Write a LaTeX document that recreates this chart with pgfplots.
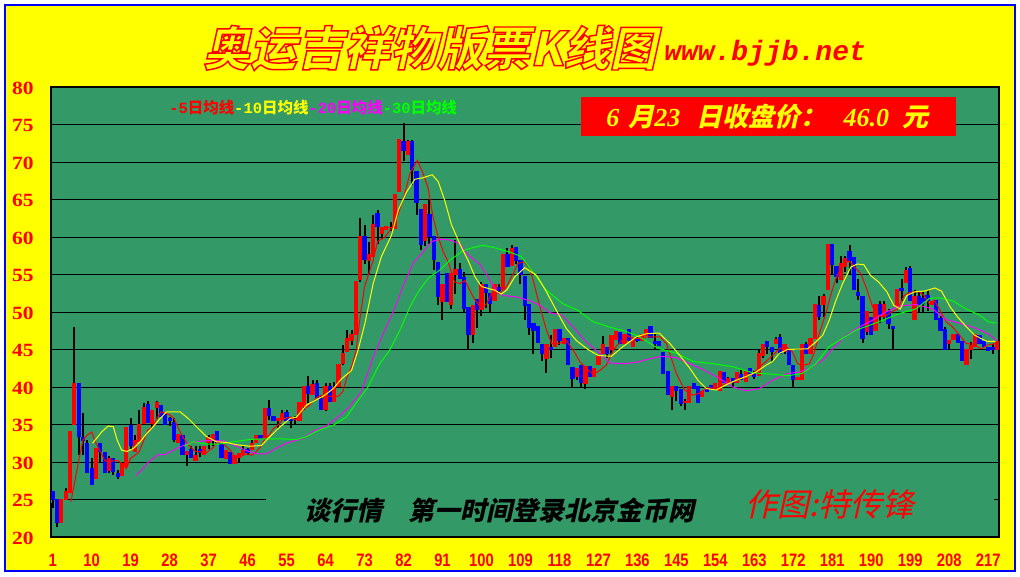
\documentclass[border=0pt]{standalone}
\usepackage{fontspec}
\usepackage{pgfplots}
\usepackage{pgfplotstable}
\pgfplotsset{compat=1.18}
\setmainfont{Liberation Sans}
\newfontfamily\cjk{Noto Sans CJK SC}
\newfontfamily\cjkit[FakeSlant=0.22]{Noto Sans CJK SC}
\newfontfamily\romn{Liberation Serif}
\newfontfamily\romnwide[FakeStretch=1.15]{Liberation Serif}
\newfontfamily\numsans[FakeStretch=0.82]{Liberation Sans}
\newfontfamily\monof{Liberation Mono}
\definecolor{plotgreen}{HTML}{339966}
\definecolor{maGreen}{HTML}{00FF00}
\definecolor{pureYellow}{HTML}{FFFF00}
\definecolor{pureRed}{HTML}{FF0000}
\definecolor{pureBlue}{HTML}{0000FF}
\definecolor{pureMagenta}{HTML}{FF00FF}

% n open high low close
\pgfplotstableread{
n open high low close
1 26.1 26.1 23.9 25.0
2 25.1 25.1 21.4 21.9
3 21.9 25.1 21.9 25.1
4 25.0 26.5 25.0 26.1
5 25.9 34.1 25.9 34.1
6 34.9 48.0 34.9 40.6
7 40.6 40.6 31.0 33.4
8 33.4 36.5 30.9 32.8
9 32.6 33.0 28.6 28.6
10 29.2 30.5 27.0 27.0
11 27.8 31.9 27.8 31.9
12 32.6 32.6 29.9 31.4
13 31.4 31.4 28.5 28.5
14 28.8 30.8 28.5 30.5
15 30.6 30.6 28.3 28.7
16 28.5 29.0 27.8 28.0
17 28.2 29.9 28.2 29.9
18 29.3 34.7 29.3 34.7
19 34.9 35.9 31.8 32.1
20 31.4 33.6 31.4 32.9
21 32.7 37.0 32.7 35.1
22 35.1 37.9 35.1 37.3
23 37.8 38.1 35.2 35.2
24 35.1 37.0 34.5 37.0
25 37.2 38.2 35.8 38.0
26 37.6 37.6 36.0 36.0
27 36.5 36.5 35.0 35.0
28 35.9 36.0 34.8 35.5
29 35.4 35.9 32.7 33.0
30 32.5 33.7 32.5 33.7
31 33.6 33.6 30.9 30.9
32 30.9 31.5 29.5 31.5
33 31.7 32.1 30.5 30.5
34 30.2 32.1 30.2 30.9
35 31.7 32.2 30.7 31.2
36 31.0 32.1 31.0 32.1
37 32.6 33.6 31.7 33.3
38 32.8 33.7 32.2 33.7
39 34.1 34.1 32.6 32.6
40 32.7 32.7 30.6 30.6
41 30.4 31.6 30.4 31.6
42 31.4 31.4 29.7 29.8
43 29.8 30.9 29.8 30.9
44 30.6 31.2 30.0 31.2
45 30.9 32.1 30.9 31.6
46 31.7 31.9 31.0 31.2
47 31.6 33.1 31.6 32.6
48 32.6 33.6 32.6 33.6
49 33.6 33.6 33.1 33.1
50 33.1 37.2 33.1 37.2
51 37.2 38.3 35.6 36.1
52 36.1 36.1 35.5 35.5
53 35.5 35.9 34.5 35.9
54 35.6 37.0 35.6 36.5
55 36.7 37.0 35.5 35.5
56 36.0 36.0 34.6 35.5
57 35.6 36.2 35.0 35.8
58 35.5 38.0 35.5 38.0
59 37.3 40.1 36.9 40.1
60 40.1 41.5 37.9 39.1
61 38.9 41.0 38.9 40.4
62 40.6 41.0 38.5 38.5
63 38.5 39.0 36.9 36.9
64 37.0 40.6 36.8 40.1
65 40.1 40.5 38.0 38.0
66 38.0 40.7 38.0 40.0
67 40.0 43.1 40.0 43.1
68 43.1 45.6 42.9 44.5
69 44.7 47.6 44.7 46.6
70 46.2 47.6 45.6 47.1
71 46.9 54.2 46.9 54.2
72 54.3 62.5 54.0 60.2
73 60.2 61.6 56.4 56.9
74 56.8 59.4 55.0 57.7
75 57.4 63.0 57.4 61.7
76 63.2 63.6 59.1 61.4
77 60.4 61.3 59.7 61.3
78 60.9 61.5 60.9 61.5
79 61.2 62.0 60.8 61.4
80 61.1 65.7 61.1 65.7
81 66.0 73.1 66.0 73.1
82 72.8 75.2 70.2 71.5
83 70.9 73.0 70.9 72.8
84 72.8 73.0 66.9 68.9
85 68.8 68.8 62.9 64.5
86 63.7 63.7 58.3 58.9
87 59.5 64.4 58.8 64.4
88 63.1 65.0 59.1 60.0
89 60.2 60.2 55.6 56.9
90 56.7 56.7 50.9 52.0
91 51.4 53.8 48.9 53.8
92 55.2 55.2 51.4 51.4
93 50.9 55.2 50.4 55.2
94 54.9 59.6 52.4 55.7
95 55.7 56.5 54.4 54.4
96 54.7 55.3 49.9 50.4
97 50.7 50.7 45.0 46.9
98 47.0 51.0 45.9 51.0
99 51.7 51.7 47.9 50.3
100 50.3 54.0 49.5 53.8
101 53.8 53.8 50.5 52.5
102 52.5 52.5 49.9 51.1
103 51.5 53.8 51.5 53.8
104 53.4 53.8 52.4 52.8
105 52.9 57.8 52.9 57.8
106 57.8 58.6 56.0 56.0
107 56.1 58.9 56.1 58.6
108 58.7 58.7 56.4 56.8
109 57.0 57.0 53.7 54.9
110 54.8 54.8 48.9 50.8
111 51.1 51.1 46.9 47.9
112 48.5 48.5 44.4 47.5
113 48.1 48.1 45.9 45.9
114 45.7 45.7 43.5 44.4
115 43.8 45.7 41.9 45.7
116 45.4 46.9 43.9 44.9
117 45.4 47.7 45.4 47.7
118 47.7 47.7 45.6 46.2
119 45.7 46.5 45.7 46.5
120 46.5 46.5 42.9 42.9
121 42.7 42.7 40.0 41.1
122 41.4 42.6 40.9 42.6
123 42.9 42.9 39.9 40.5
124 40.4 42.8 39.8 42.8
125 42.8 42.8 41.3 41.3
126 41.4 42.6 41.4 42.6
127 42.9 44.1 42.9 44.1
128 44.4 46.8 44.4 45.7
129 45.4 45.4 43.9 44.4
130 44.9 46.9 44.4 46.9
131 46.3 47.5 46.3 47.5
132 47.4 47.4 45.8 45.8
133 45.8 47.1 45.8 47.1
134 47.7 47.7 46.2 46.2
135 45.4 46.6 45.4 46.6
136 46.5 46.8 46.0 46.2
137 46.2 47.1 46.2 47.1
138 46.8 47.7 46.8 47.7
139 48.1 48.1 46.6 46.6
140 46.2 47.1 45.0 45.7
141 46.1 46.1 45.5 45.5
142 44.7 44.7 41.8 41.8
143 42.1 42.1 38.9 38.9
144 38.7 40.1 37.0 40.1
145 40.1 40.1 38.1 39.5
146 39.7 39.7 37.5 37.8
147 37.9 38.4 37.0 38.2
148 37.9 40.1 37.9 40.1
149 40.6 40.6 39.7 39.7
150 40.1 40.1 37.9 37.9
151 38.7 39.5 38.7 39.5
152 39.9 39.9 39.4 39.4
153 40.3 40.3 39.8 39.8
154 39.6 40.5 39.6 40.5
155 39.5 42.1 39.5 42.1
156 42.0 42.0 40.5 40.5
157 40.5 41.3 40.5 41.2
158 41.2 41.2 40.0 40.5
159 40.5 42.0 40.5 42.0
160 41.7 42.3 41.0 41.0
161 40.7 42.2 40.7 42.2
162 42.6 42.6 41.7 41.7
163 41.9 42.1 41.1 41.3
164 41.5 44.9 41.5 44.5
165 44.1 45.7 43.9 45.7
166 46.1 46.1 44.4 45.4
167 45.4 45.4 43.4 44.7
168 45.8 46.7 45.8 46.4
169 46.7 47.1 44.4 44.4
170 44.7 45.7 44.4 45.7
171 45.0 45.0 42.9 42.9
172 42.9 42.9 40.0 40.9
173 41.0 41.3 40.9 41.3
174 40.9 45.7 40.9 45.7
175 45.7 46.0 44.4 44.4
176 44.4 46.6 44.4 46.6
177 46.4 51.1 46.4 51.1
178 51.0 52.1 49.0 49.4
179 50.9 52.4 49.4 52.2
180 53.0 59.1 53.0 59.1
181 59.1 59.1 54.9 56.3
182 56.2 56.2 53.9 54.7
183 54.3 57.5 54.3 56.6
184 56.0 57.5 55.3 57.2
185 58.2 59.0 54.9 56.8
186 57.4 57.4 52.9 52.9
187 52.7 54.4 51.6 52.2
188 52.2 52.2 45.9 46.4
189 47.3 50.1 46.9 50.1
190 49.4 49.4 46.9 47.0
191 47.5 51.1 47.5 51.1
192 51.1 51.5 48.6 49.6
193 49.5 51.5 49.0 51.1
194 50.1 50.4 47.8 48.4
195 48.2 48.2 45.0 47.7
196 50.7 53.1 50.7 53.1
197 53.2 54.4 51.5 52.8
198 53.9 56.0 53.9 55.6
199 55.9 56.1 51.5 51.5
200 48.9 52.9 48.9 52.2
201 52.2 52.7 49.9 50.9
202 51.9 52.7 49.9 51.1
203 52.3 53.0 50.2 51.5
204 50.9 51.5 50.9 51.5
205 51.6 51.6 48.9 48.9
206 49.2 49.5 47.5 47.5
207 47.7 48.0 45.0 45.0
208 45.8 46.3 45.0 46.3
209 46.3 47.1 46.3 47.1
210 47.1 47.1 45.9 45.9
211 46.1 46.1 43.5 43.5
212 42.9 45.1 42.9 45.1
213 45.0 46.0 43.8 45.6
214 45.4 47.1 45.4 47.1
215 47.0 47.0 45.8 45.8
216 46.2 46.2 45.4 45.4
217 45.4 45.4 44.8 44.8
218 45.4 45.8 44.4 44.9
219 44.9 46.2 44.9 46.2
}\candles

\begin{document}
\begin{tikzpicture}[x=0.75pt,y=-0.75pt]
\path[use as bounding box] (0,0) rectangle (1020,576);
\fill[white] (0,0) rectangle (1020,576);
\fill[pureYellow] (5,5) rectangle (1014.5,571);
\draw[pureBlue,line width=1.5pt] (5,5) rectangle (1014.5,571);

\begin{axis}[
  at={(38.25pt,-402.75pt)}, anchor=south west,
  scale only axis, width=711pt, height=337.5pt,
  xmin=0.607, xmax=219.5, ymin=20, ymax=80,
  xtick={1,10,...,217}, ytick={20,25,...,80},
  major tick length=0pt,
  ymajorgrids, grid style={black,line width=0.75pt},
  axis line style={black,line width=1.5pt},
  axis background/.style={fill=plotgreen},
  /pgf/number format/assume math mode=true,
  xticklabel style={font=\numsans\bfseries\fontsize{13.5}{13.5}\selectfont,text=pureRed,yshift=-9.5pt},
  yticklabel style={font=\romnwide\bfseries\fontsize{14}{14}\selectfont,text=pureRed,xshift=-9.5pt,yshift=-0.75pt},
  clip=false,
  every axis plot/.append style={forget plot},
  wick/.style={draw=none,mark=none,error bars/.cd,y dir=both,y explicit,error mark=none,
    error bar style={black,line width=1.5pt}},
  body/.style={draw=none,mark=none,error bars/.cd,y dir=both,y explicit,error mark=none,
    error bar style={#1,line width=3.2pt}},
  ma/.style={#1,line width=0.75pt,mark=none},
]
% the lower text panel hides the 25 gridline in the reference
\fill[plotgreen] (axis cs:50.3,24.5) rectangle (axis cs:218.4,25.5);
\fill[plotgreen] (axis cs:0.7,24.5) rectangle (axis cs:4.6,25.5);

\addplot[wick] table[x=n,y expr={(\thisrow{high}+\thisrow{low})/2},
  y error expr={(\thisrow{high}-\thisrow{low})/2}] {\candles};
\addplot[body=pureBlue] table[x=n,
  y expr={\thisrow{close}<\thisrow{open} ? (\thisrow{open}+\thisrow{close})/2 : nan},
  y error expr={abs(\thisrow{open}-\thisrow{close})/2}] {\candles};
\addplot[body=pureRed] table[x=n,
  y expr={\thisrow{close}>=\thisrow{open} ? (\thisrow{open}+\thisrow{close})/2 : nan},
  y error expr={abs(\thisrow{open}-\thisrow{close})/2}] {\candles};

% 5 day
\addplot[ma=pureRed] coordinates {
(5.2,24.7)(6,27.1)(7,30.2)(8,32.9)(9,33.6)(10,34)(11,32.5)(12,31.4)(13,30.2)(14,30)(15,30.2)(16,30.2)
(17,29.8)(18,29.1)(19,30.5)(20,30.9)(21,31.4)(22,32.9)(23,34.3)(24,34.6)(25,35.8)(26,36.7)(27,36.5)
(28,36.3)(29,35.8)(30,34.5)(31,33.4)(32,32.5)(33,31.9)(34,31.4)(35,31.4)(36,31)(37,31.5)(38,31.9)
(39,32.7)(40,32.6)(41,32.1)(42,31.6)(43,30.8)(44,30.6)(45,30.9)(46,31.1)(47,30.9)(48,31.4)(49,32)
(50,33.1)(51,33.6)(52,34.5)(53,34.9)(54,35.6)(55,35.9)(56,36)(57,35.6)(58,36.2)(59,37.1)(60,37.4)
(61,38)(62,38.6)(63,38.9)(64,38.7)(65,38.8)(66,38.7)(67,38.8)(68,39.4)(69,41.4)(70,42.7)(71,44.7)
(72,49.4)(73,53.4)(75,56.9)(76,59.4)(77.7,60)(79.2,61.1)(80.8,63.1)(82.3,65.8)(83.5,68.5)(85.2,70.2)
(86.5,68.5)(87.7,66.5)(88.8,62.7)(90,60)(91.2,58)(92.3,56.7)(93.8,54)(95,53.8)(96.2,54.2)(97.3,52.9)
(98.5,51.6)(100,50.5)(101.2,51.1)(102.7,52.9)(104.2,52.5)(105.8,53.4)(107.3,55.1)(108.5,56.5)
(109.8,56.7)(111.2,55.8)(112.3,53.4)(113.5,50.7)(115,47.6)(116.2,45.8)(117.7,45.8)(119.6,46.2)
(121.2,44.9)(122.7,43.4)(124.2,42.5)(125.8,41.7)(127.3,42.2)(128.8,42.9)(130.4,44.9)(132,46)
(133.5,46.9)(135,46.5)(136.5,46.5)(138.4,46.7)(140.2,46.7)(141.2,46.7)(142.7,45.8)(145,41.8)
(146.9,39.6)(148.8,38.9)(150.3,39.2)(152.2,39.9)(154.2,39.8)(156.5,40.5)(158.4,40.7)(160.2,41.2)
(162.6,41.7)(164.2,42.7)(165.7,43.4)(167.2,44.2)(168.8,45.1)(170.3,45.4)(171.8,44.7)(173,43.1)
(174.2,42.9)(175.7,43.1)(176.8,44.5)(178,47.1)(179.5,49.8)(180.7,52.4)(181.8,54.4)(183.4,56.4)
(184.9,56.8)(186.5,55.8)(187.6,55.1)(188.8,53.3)(190.3,50.7)(191.5,49.6)(193,49.3)(194.6,50)
(196.1,50.4)(197.6,52.2)(199.2,52.7)(201.1,52.7)(202.2,52.2)(203.4,51.1)(204.6,51.6)(205.7,50.4)
(207.3,48.7)(208.8,48)(210.4,46.9)(211.9,45.8)(213.5,45.7)(215.4,45.1)(216.9,45.6)(218.7,45.8)
};
% 20 day
\addplot[ma=pureMagenta] coordinates {
(20.2,28.2)(21.5,28.9)(23.1,30)(25.4,31)(26.9,31)(29.6,31.8)(32.3,32.5)(34.2,32.7)(37.3,32.9)
(40.4,32.8)(43.1,32.2)(45.8,31.5)(48.1,31.1)(50.4,31.1)(53.1,32)(55.4,32.6)(58.5,33.1)(61.5,34.2)
(64.2,34.8)(67.3,36.2)(69.6,37.4)(72.3,39.4)(75,44)(77.3,47.1)(79.6,50)(81.9,53.4)(84.2,56.5)
(86.5,58)(88.5,59.4)(90.4,59.7)(92.7,59.6)(95,59.1)(96.9,57.6)(99.6,56.4)(101.5,54.7)(103.5,52.7)
(105,52.2)(108.1,52)(111.2,51.5)(113.5,50.9)(115.8,49.9)(118.5,49.6)(121.2,48)(124.2,46)(126.5,44.9)
(129.6,43.2)(132.7,43.1)(135.8,43.3)(138.4,43.7)(141.5,44.1)(145,43.9)(148.1,43.1)(151.2,42.3)
(154.2,41.4)(158,40)(161.1,39.5)(164.2,39.8)(167.2,40.9)(170.7,41.8)(173.4,42)(175.7,42.5)(178.8,43.6)
(181.1,45.1)(184.2,46.9)(187.2,48)(190.3,48.9)(193.4,50)(196.5,50.8)(200.3,51)(204.2,50.4)(207.3,49)
(210.4,48.5)(214.3,47.8)(217,47.1)(219,46.2)
};
% 30 day
\addplot[ma=maGreen] coordinates {
(31.3,32.1)(33.5,32.7)(36.5,32.4)(39.6,32.4)(42.7,32.7)(46.5,33)(49.6,33.1)(53.5,33.1)(57.3,33)
(59.6,33.4)(62.7,34.3)(65.8,34.9)(68.8,36)(71.5,38.2)(73.8,40)(76.5,43.1)(78.8,44.9)(81.2,47.6)
(83.5,50.7)(85.4,52.7)(87.7,54.5)(90.4,55.6)(92.7,56.9)(95.8,58.2)(98.1,58.6)(100.4,58.9)(103.5,58.5)
(106.5,58)(109.2,57.4)(111.5,55.6)(115,52.9)(118.8,51.1)(122.3,50.2)(125.8,48.7)(129.6,48)(133.4,47.4)
(136.5,46.7)(140,45.4)(141.2,45.1)(145,44.5)(148.9,43.4)(153.5,43.1)(158,42.7)(162.6,41.9)(167.2,41.7)
(170.7,41.5)(174,41.8)(177.2,43.1)(180.3,45.4)(183.4,46.5)(186.5,47.6)(189.5,48.2)(192.6,48.9)
(196.5,49.8)(200.3,50.4)(203.4,51.8)(205.7,51.9)(208.8,51.5)(211.9,50.4)(215,49.6)(217,48.7)(218.9,48.5)
};
% 10 day
\addplot[ma=pureYellow] coordinates {
(10.2,32.5)(12.3,34)(13.8,34.8)(15,34.7)(15.9,32.9)(16.9,31.6)(18.1,31.4)(19.6,31.8)(21.2,32.7)
(22.7,33.8)(24.2,34.7)(25.8,35.8)(27.3,36.7)(30.4,36.7)(32.3,35.8)(34.2,34.7)(36.5,33.4)(38.8,32.7)
(41.2,32.6)(43.5,32.3)(46.5,32.1)(49.2,32.2)(51.2,33.4)(53.5,34.7)(55.8,35.8)(57.3,36)(59.6,37.6)
(61.9,38.3)(63.8,38.9)(65.8,39.8)(67.7,41.1)(70,42.2)(71.5,44.9)(73.1,48.5)(75,53.8)(76.9,57.4)
(79.2,60.2)(80.8,63.6)(82.7,66)(84.6,67.7)(86.5,67.9)(88.6,68.3)(90,67.4)(91.5,64.9)(93.1,61.6)
(95,59.1)(96.9,56.9)(98.5,54.7)(100,53.4)(103.1,52.9)(104.6,52.4)(105.8,52.9)(107.7,54.7)(110,55.9)
(112.7,54.9)(115,52.7)(117.3,50.2)(119.6,47.8)(121.9,46.2)(124.6,45)(127,44.2)(130,44.1)(132.7,45.4)
(135.8,46.7)(138.1,47.1)(141,47.2)(143.5,45.8)(145.8,44.2)(148.1,42.5)(150,40.9)(151.9,39.8)(154.2,39.6)
(156.5,40.3)(158.8,40.9)(161.1,41.4)(163.4,42)(165.7,42.9)(167.2,43.4)(168.8,44.5)(170.7,45)(175.3,45.1)
(177.2,46)(178.8,46.9)(180.3,48.9)(181.8,51.5)(183.4,53.8)(185.3,56)(186.8,56.4)(188.3,56.3)(189.8,54.9)
(191.7,54)(193.6,52.7)(195.2,50.9)(196.7,50.4)(198.2,52.2)(200.1,52.7)(202.4,52.8)(204.7,53.2)(206.2,52.8)
(208.2,50.7)(210,49.3)(212,48)(213.9,46.9)(216.6,46.1)(218.7,46.1)
};
\end{axis}

% title, hollow letters
\node[anchor=west,inner sep=0pt,text=pureRed] at (203,48)
  {\cjkit\bfseries\fontsize{35}{35}\selectfont\special{pdf:code q 2 Tr 1 0 0 RG 1 1 0 rg 1.1 w}奥运吉祥物版票K线图\special{pdf:code Q}};
\node[anchor=west,inner sep=0pt,text=pureRed] at (664,53)
  {\monof\bfseries\itshape\fontsize{21}{21}\selectfont www.bjjb.net};

% legend
\node[anchor=west,inner sep=0pt] at (169,108) {\fontsize{11.6}{11.6}\selectfont\bfseries
  \textcolor{pureRed}{{\monof -5}\cjk 日均线}\textcolor{pureYellow}{{\monof -10}\cjk 日均线}\textcolor{pureMagenta}{{\monof -20}\cjk 日均线}\textcolor{maGreen}{{\monof -30}\cjk 日均线}};

% closing price box
\fill[pureRed] (581,97) rectangle (956,136);
\node[anchor=west,inner sep=0pt,text=pureYellow] at (606,117) {\fontsize{19.5}{19.5}\selectfont\bfseries
  {\romn\itshape 6}\hspace{0.35em}{\cjkit 月}{\romn\itshape 23}\hspace{0.62em}{\cjkit 日收盘价：}\hspace{0.66em}{\romn\itshape 46.0}\hspace{0.5em}{\cjkit 元}};

% bottom texts
\node[anchor=west,inner sep=0pt] at (304,511) {\cjkit\bfseries\fontsize{19.5}{19.5}\selectfont 谈行情\hspace{1em}第一时间登录北京金币网};
\node[anchor=west,inner sep=0pt,text=pureRed] at (745,504) {\cjkit\fontsize{24}{24}\selectfont 作图:特传锋};
\end{tikzpicture}
\end{document}
